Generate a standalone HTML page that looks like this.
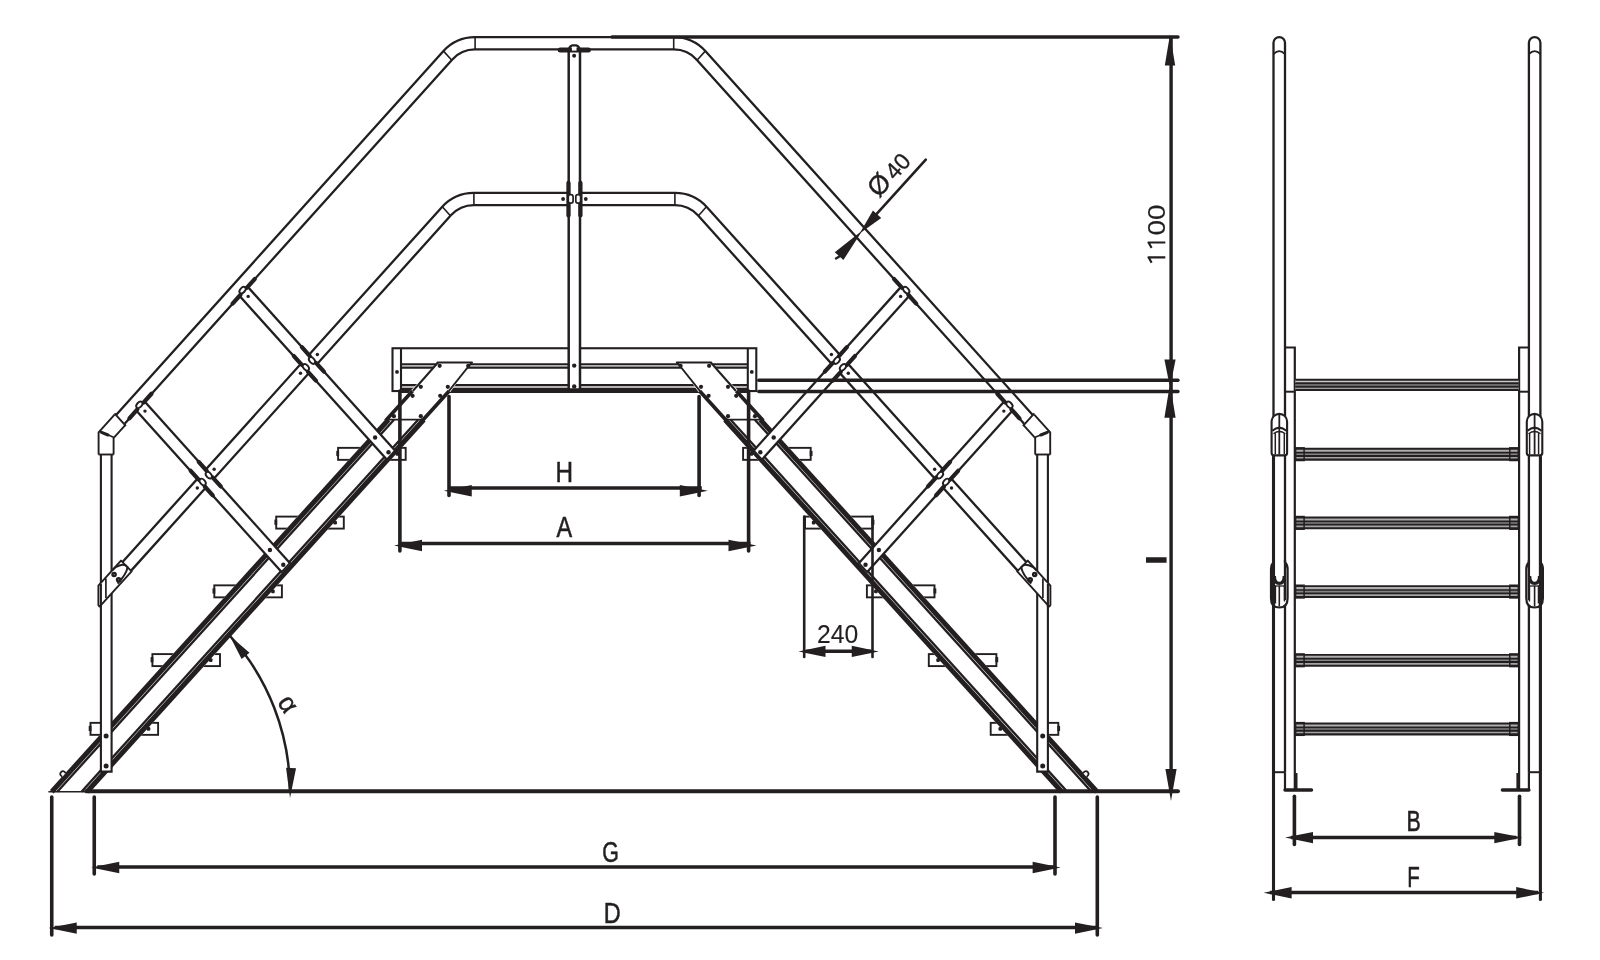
<!DOCTYPE html>
<html><head><meta charset="utf-8"><title>Drawing</title>
<style>html,body{margin:0;padding:0;background:#fff;}svg{display:block;will-change:transform;}body{font-family:"Liberation Sans",sans-serif;}</style></head>
<body>
<svg width="1600" height="960" viewBox="0 0 1600 960" stroke="#231f20" fill="none" font-family="Liberation Sans, sans-serif">
<rect x="0" y="0" width="1600" height="960" fill="#fff" stroke="none"/>
<g><rect x="392.5" y="348.25" width="363.8" height="42.8" fill="#fff" stroke-width="2.1"/>
<rect x="401" y="364.1" width="346.8" height="3.7" fill="#b4b4b4" stroke="none"/>
<rect x="401" y="385" width="346.8" height="4" fill="#b4b4b4" stroke="none"/>
<line x1="401" y1="364.1" x2="747.8" y2="364.1" stroke-width="1.9" stroke-linecap="butt" />
<line x1="401" y1="367.8" x2="747.8" y2="367.8" stroke-width="1.9" stroke-linecap="butt" />
<line x1="401" y1="385" x2="747.8" y2="385" stroke-width="1.9" stroke-linecap="butt" />
<line x1="401" y1="390.6" x2="747.8" y2="390.6" stroke-width="5" stroke-linecap="butt" />
<line x1="401" y1="348.25" x2="401" y2="391" stroke-width="2.1" stroke-linecap="butt" />
<line x1="747.8" y1="348.25" x2="747.8" y2="391" stroke-width="2.1" stroke-linecap="butt" />
<circle cx="397" cy="371.9" r="1.9" fill="#231f20" stroke="none"/>
<circle cx="751.8" cy="371.9" r="1.9" fill="#231f20" stroke="none"/></g>
<g><rect x="90.5" y="722.85" width="67.6" height="12.0" fill="#fff" stroke-width="1.9"/>
<rect x="152.4" y="654.1" width="67.6" height="12.0" fill="#fff" stroke-width="1.9"/>
<rect x="214.3" y="585.35" width="67.6" height="12.0" fill="#fff" stroke-width="1.9"/>
<rect x="276.2" y="516.6" width="67.6" height="12.0" fill="#fff" stroke-width="1.9"/>
<rect x="338.1" y="447.85" width="67.6" height="12.0" fill="#fff" stroke-width="1.9"/>
<path d="M48.42 791.7 L385.07 419.7 L410.25 391 L438 362.5 L471.6 362.5 L451.05 391 L425.07 419.7 L427.07 419.7 L90.42 791.7Z" stroke-width="0" fill="#fff" stroke="none"/>
<line x1="51.79" y1="791.7" x2="388.45" y2="419.7" stroke-width="5" stroke-linecap="butt" />
<line x1="87.05" y1="791.7" x2="423.7" y2="419.7" stroke-width="5" stroke-linecap="butt" />
<line x1="385.57" y1="420.7" x2="412.45" y2="391" stroke-width="3.7" stroke-linecap="butt" />
<line x1="422.27" y1="420.7" x2="449.15" y2="391" stroke-width="3.7" stroke-linecap="butt" />
<line x1="57.32" y1="791.7" x2="393.97" y2="419.7" stroke-width="2.35" stroke-linecap="butt" />
<line x1="81.52" y1="791.7" x2="418.17" y2="419.7" stroke-width="2.35" stroke-linecap="butt" />
<line x1="412.85" y1="391" x2="438" y2="362.5" stroke-width="2" stroke-linecap="butt" />
<line x1="448.85" y1="391" x2="471.6" y2="362.5" stroke-width="2" stroke-linecap="butt" />
<line x1="437.6" y1="362.5" x2="472" y2="362.5" stroke-width="2" stroke-linecap="round" />
<line x1="387.07" y1="419.7" x2="423.07" y2="419.7" stroke-width="1.8" stroke-linecap="butt" />
<line x1="48.42" y1="791.7" x2="84.42" y2="791.7" stroke-width="1.6" stroke-linecap="butt" />
<circle cx="439.7" cy="365.8" r="2.1" fill="#231f20" stroke="none"/>
<circle cx="468.2" cy="365.8" r="2.1" fill="#231f20" stroke="none"/>
<circle cx="420.8" cy="386.8" r="2.1" fill="#231f20" stroke="none"/>
<circle cx="447.8" cy="386.8" r="2.1" fill="#231f20" stroke="none"/>
<circle cx="412.6" cy="395.8" r="2.1" fill="#231f20" stroke="none"/>
<circle cx="440.2" cy="395.8" r="2.1" fill="#231f20" stroke="none"/>
<circle cx="393.9" cy="416.2" r="2.1" fill="#231f20" stroke="none"/>
<circle cx="420.8" cy="416.2" r="2.1" fill="#231f20" stroke="none"/>
<rect x="146.7" y="726.95" width="3.6" height="3.8" rx="1.2" fill="#231f20" stroke="none"/>
<line x1="90.1" y1="725.85" x2="90.1" y2="731.05" stroke-width="2.8" stroke-linecap="butt" />
<rect x="208.92" y="658.2" width="3.6" height="3.8" rx="1.2" fill="#231f20" stroke="none"/>
<line x1="152" y1="657.1" x2="152" y2="662.3" stroke-width="2.8" stroke-linecap="butt" />
<rect x="271.14" y="589.45" width="3.6" height="3.8" rx="1.2" fill="#231f20" stroke="none"/>
<line x1="213.9" y1="588.35" x2="213.9" y2="593.55" stroke-width="2.8" stroke-linecap="butt" />
<rect x="333.35" y="520.7" width="3.6" height="3.8" rx="1.2" fill="#231f20" stroke="none"/>
<line x1="275.8" y1="519.6" x2="275.8" y2="524.8" stroke-width="2.8" stroke-linecap="butt" />
<rect x="395.57" y="451.95" width="3.6" height="3.8" rx="1.2" fill="#231f20" stroke="none"/>
<line x1="337.7" y1="450.85" x2="337.7" y2="456.05" stroke-width="2.8" stroke-linecap="butt" />
<path d="M62.2 776.93 L61.13 775.74 A2.6 2.6 0 0 1 64.61 771.88 L65.68 773.07" stroke-width="1.7" fill="#fff" stroke-linejoin="round"/>
<path d="M126.84 566.3 L446.36 211.27 A37 37 0 0 1 473.9 199 L568 199" stroke-width="14.5" fill="none" stroke-linecap="butt" stroke-linejoin="round"/><path d="M126.84 566.3 L446.36 211.27 A37 37 0 0 1 473.9 199 L568 199" stroke="#fff" stroke-width="9.9" fill="none" stroke-linecap="butt" stroke-linejoin="round"/>
<line x1="473.9" y1="193" x2="473.9" y2="205" stroke-width="1.6" stroke-linecap="butt" />
<line x1="442.35" y1="206.81" x2="450.38" y2="215.73" stroke-width="1.6" stroke-linecap="butt" /></g>
<g transform="translate(1148.8 0) scale(-1 1)"><rect x="90.5" y="722.85" width="67.6" height="12.0" fill="#fff" stroke-width="1.9"/>
<rect x="152.4" y="654.1" width="67.6" height="12.0" fill="#fff" stroke-width="1.9"/>
<rect x="214.3" y="585.35" width="67.6" height="12.0" fill="#fff" stroke-width="1.9"/>
<rect x="276.2" y="516.6" width="67.6" height="12.0" fill="#fff" stroke-width="1.9"/>
<rect x="338.1" y="447.85" width="67.6" height="12.0" fill="#fff" stroke-width="1.9"/>
<path d="M48.42 791.7 L385.07 419.7 L410.25 391 L438 362.5 L471.6 362.5 L451.05 391 L425.07 419.7 L427.07 419.7 L90.42 791.7Z" stroke-width="0" fill="#fff" stroke="none"/>
<line x1="51.79" y1="791.7" x2="388.45" y2="419.7" stroke-width="5" stroke-linecap="butt" />
<line x1="87.05" y1="791.7" x2="423.7" y2="419.7" stroke-width="5" stroke-linecap="butt" />
<line x1="385.57" y1="420.7" x2="412.45" y2="391" stroke-width="3.7" stroke-linecap="butt" />
<line x1="422.27" y1="420.7" x2="449.15" y2="391" stroke-width="3.7" stroke-linecap="butt" />
<line x1="57.32" y1="791.7" x2="393.97" y2="419.7" stroke-width="2.35" stroke-linecap="butt" />
<line x1="81.52" y1="791.7" x2="418.17" y2="419.7" stroke-width="2.35" stroke-linecap="butt" />
<line x1="412.85" y1="391" x2="438" y2="362.5" stroke-width="2" stroke-linecap="butt" />
<line x1="448.85" y1="391" x2="471.6" y2="362.5" stroke-width="2" stroke-linecap="butt" />
<line x1="437.6" y1="362.5" x2="472" y2="362.5" stroke-width="2" stroke-linecap="round" />
<line x1="387.07" y1="419.7" x2="423.07" y2="419.7" stroke-width="1.8" stroke-linecap="butt" />
<line x1="48.42" y1="791.7" x2="84.42" y2="791.7" stroke-width="1.6" stroke-linecap="butt" />
<circle cx="439.7" cy="365.8" r="2.1" fill="#231f20" stroke="none"/>
<circle cx="468.2" cy="365.8" r="2.1" fill="#231f20" stroke="none"/>
<circle cx="420.8" cy="386.8" r="2.1" fill="#231f20" stroke="none"/>
<circle cx="447.8" cy="386.8" r="2.1" fill="#231f20" stroke="none"/>
<circle cx="412.6" cy="395.8" r="2.1" fill="#231f20" stroke="none"/>
<circle cx="440.2" cy="395.8" r="2.1" fill="#231f20" stroke="none"/>
<circle cx="393.9" cy="416.2" r="2.1" fill="#231f20" stroke="none"/>
<circle cx="420.8" cy="416.2" r="2.1" fill="#231f20" stroke="none"/>
<rect x="146.7" y="726.95" width="3.6" height="3.8" rx="1.2" fill="#231f20" stroke="none"/>
<line x1="90.1" y1="725.85" x2="90.1" y2="731.05" stroke-width="2.8" stroke-linecap="butt" />
<rect x="208.92" y="658.2" width="3.6" height="3.8" rx="1.2" fill="#231f20" stroke="none"/>
<line x1="152" y1="657.1" x2="152" y2="662.3" stroke-width="2.8" stroke-linecap="butt" />
<rect x="271.14" y="589.45" width="3.6" height="3.8" rx="1.2" fill="#231f20" stroke="none"/>
<line x1="213.9" y1="588.35" x2="213.9" y2="593.55" stroke-width="2.8" stroke-linecap="butt" />
<rect x="333.35" y="520.7" width="3.6" height="3.8" rx="1.2" fill="#231f20" stroke="none"/>
<line x1="275.8" y1="519.6" x2="275.8" y2="524.8" stroke-width="2.8" stroke-linecap="butt" />
<rect x="395.57" y="451.95" width="3.6" height="3.8" rx="1.2" fill="#231f20" stroke="none"/>
<line x1="337.7" y1="450.85" x2="337.7" y2="456.05" stroke-width="2.8" stroke-linecap="butt" />
<path d="M62.2 776.93 L61.13 775.74 A2.6 2.6 0 0 1 64.61 771.88 L65.68 773.07" stroke-width="1.7" fill="#fff" stroke-linejoin="round"/>
<path d="M126.84 566.3 L446.36 211.27 A37 37 0 0 1 473.9 199 L568 199" stroke-width="14.5" fill="none" stroke-linecap="butt" stroke-linejoin="round"/><path d="M126.84 566.3 L446.36 211.27 A37 37 0 0 1 473.9 199 L568 199" stroke="#fff" stroke-width="9.9" fill="none" stroke-linecap="butt" stroke-linejoin="round"/>
<line x1="473.9" y1="193" x2="473.9" y2="205" stroke-width="1.6" stroke-linecap="butt" />
<line x1="442.35" y1="206.81" x2="450.38" y2="215.73" stroke-width="1.6" stroke-linecap="butt" /></g>
<path d="M120.15 419.59 L447.56 55.57 A37 37 0 0 1 475.1 43.3 L673.7 43.3 A37 37 0 0 1 701.24 55.57 L1028.65 419.59" stroke-width="14.5" fill="none" stroke-linecap="butt" stroke-linejoin="round"/><path d="M120.15 419.59 L447.56 55.57 A37 37 0 0 1 475.1 43.3 L673.7 43.3 A37 37 0 0 1 701.24 55.57 L1028.65 419.59" stroke="#fff" stroke-width="9.9" fill="none" stroke-linecap="butt" stroke-linejoin="round"/>
<line x1="475.1" y1="37.2" x2="475.1" y2="49.2" stroke-width="1.6" stroke-linecap="butt" />
<line x1="443.55" y1="51.11" x2="451.58" y2="60.03" stroke-width="1.6" stroke-linecap="butt" />
<line x1="673.7" y1="37.2" x2="673.7" y2="49.2" stroke-width="1.6" stroke-linecap="butt" />
<line x1="705.25" y1="51.11" x2="697.22" y2="60.03" stroke-width="1.6" stroke-linecap="butt" />
<g><path d="M140.09 405.66 L285.69 567.5" stroke-width="14.5" fill="none" stroke-linecap="butt" stroke-linejoin="round"/><path d="M140.09 405.66 L285.69 567.5" stroke="#fff" stroke-width="9.9" fill="none" stroke-linecap="butt" stroke-linejoin="round"/>
<line x1="281.08" y1="572.63" x2="290.31" y2="562.37" stroke-width="1.7" stroke-linecap="butt" />
<circle cx="283.28" cy="564.82" r="2.2" fill="#231f20" stroke="none"/>
<circle cx="269.91" cy="549.96" r="2.2" fill="#231f20" stroke="none"/>
<line x1="137.35" y1="409.46" x2="129.39" y2="418.3" stroke-width="4.2" stroke-linecap="round" />
<line x1="143.5" y1="402.62" x2="151.46" y2="393.77" stroke-width="4.2" stroke-linecap="round" />
<ellipse cx="139.36" cy="404.85" rx="3.8" ry="2.4" transform="rotate(-48.02 139.36 404.85)" fill="#fff" stroke-width="1.9"/>
<circle cx="144.97" cy="411.09" r="1.7" fill="#231f20" stroke="none"/>
<line x1="198.64" y1="479.66" x2="190.68" y2="470.81" stroke-width="4.2" stroke-linecap="round" />
<line x1="204.79" y1="486.5" x2="212.75" y2="495.34" stroke-width="4.2" stroke-linecap="round" />
<ellipse cx="202.65" cy="482.04" rx="3.8" ry="2.4" transform="rotate(48.02 202.65 482.04)" fill="#fff" stroke-width="1.9"/>
<circle cx="197.3" cy="487.98" r="1.7" fill="#231f20" stroke="none"/>
<line x1="206.66" y1="470.74" x2="198.7" y2="461.89" stroke-width="4.2" stroke-linecap="round" />
<line x1="212.81" y1="477.58" x2="220.77" y2="486.42" stroke-width="4.2" stroke-linecap="round" />
<ellipse cx="208.8" cy="475.2" rx="3.8" ry="2.4" transform="rotate(48.02 208.8 475.2)" fill="#fff" stroke-width="1.9"/>
<circle cx="214.15" cy="469.25" r="1.7" fill="#231f20" stroke="none"/>
<path d="M243.29 290.95 L390.88 455" stroke-width="14.5" fill="none" stroke-linecap="butt" stroke-linejoin="round"/><path d="M243.29 290.95 L390.88 455" stroke="#fff" stroke-width="9.9" fill="none" stroke-linecap="butt" stroke-linejoin="round"/>
<line x1="386.27" y1="460.13" x2="395.5" y2="449.87" stroke-width="1.7" stroke-linecap="butt" />
<circle cx="388.48" cy="452.32" r="2.2" fill="#231f20" stroke="none"/>
<circle cx="375.1" cy="437.46" r="2.2" fill="#231f20" stroke="none"/>
<line x1="240.55" y1="294.75" x2="232.59" y2="303.59" stroke-width="4.2" stroke-linecap="round" />
<line x1="246.71" y1="287.91" x2="254.66" y2="279.06" stroke-width="4.2" stroke-linecap="round" />
<ellipse cx="242.56" cy="290.14" rx="3.8" ry="2.4" transform="rotate(-48.02 242.56 290.14)" fill="#fff" stroke-width="1.9"/>
<circle cx="248.18" cy="296.38" r="1.7" fill="#231f20" stroke="none"/>
<line x1="301.84" y1="364.95" x2="293.88" y2="356.1" stroke-width="4.2" stroke-linecap="round" />
<line x1="307.99" y1="371.79" x2="315.95" y2="380.63" stroke-width="4.2" stroke-linecap="round" />
<ellipse cx="305.85" cy="367.33" rx="3.8" ry="2.4" transform="rotate(48.02 305.85 367.33)" fill="#fff" stroke-width="1.9"/>
<circle cx="300.5" cy="373.27" r="1.7" fill="#231f20" stroke="none"/>
<line x1="309.86" y1="356.03" x2="301.91" y2="347.18" stroke-width="4.2" stroke-linecap="round" />
<line x1="316.02" y1="362.87" x2="323.98" y2="371.71" stroke-width="4.2" stroke-linecap="round" />
<ellipse cx="312" cy="360.49" rx="3.8" ry="2.4" transform="rotate(48.02 312 360.49)" fill="#fff" stroke-width="1.9"/>
<circle cx="317.36" cy="354.54" r="1.7" fill="#231f20" stroke="none"/>
<path d="M100.9 452 V771.6 H111.6 V452" fill="#fff" stroke-width="2.1"/>
<circle cx="106.1" cy="736" r="2.5" fill="#231f20" stroke="none"/>
<circle cx="106.1" cy="766" r="2.5" fill="#231f20" stroke="none"/>
<path d="M106.1 454.5 L106.1 435.2 L120.15 419.59" stroke-width="16.9" fill="none" stroke-linejoin="miter" stroke-miterlimit="2"/>
<path d="M106.1 454.5 L106.1 435.2 L120.15 419.59" stroke="#fff" stroke-width="13.1" fill="none" stroke-linejoin="miter" stroke-miterlimit="2"/>
<line x1="98.5" y1="454.5" x2="113.7" y2="454.5" stroke-width="1.9" stroke-linecap="butt" />
<line x1="114.53" y1="413.34" x2="125.76" y2="425.83" stroke-width="1.9" stroke-linecap="butt" />
<line x1="99.4" y1="431.2" x2="113.6" y2="437.2" stroke-width="1.6" stroke-linecap="butt" />
<line x1="101.5" y1="432.3" x2="108" y2="435" stroke-width="3" stroke-linecap="round" />
<path d="M98.4 585.6 L121 560.6 L131.6 571.4 L99.6 606.6 L98.4 605.2Z" stroke-width="1.9" fill="#fff" stroke-linejoin="round"/>
<line x1="100.9" y1="584" x2="100.9" y2="607" stroke-width="2.1" stroke-linecap="butt" />
<line x1="105.9" y1="578.5" x2="105.9" y2="598" stroke-width="1.7" stroke-linecap="butt" />
<path d="M111.9 570.6 C116 565.5 124.5 562.5 127.6 567.2 C126.5 573.5 121.5 579.5 117.5 583.5" stroke-width="2" fill="none" />
<circle cx="114.1" cy="574.5" r="1.6" fill="#fff" stroke-width="2.4"/>
<circle cx="118.6" cy="579.8" r="1.6" fill="#fff" stroke-width="2.4"/></g>
<g transform="translate(1148.8 0) scale(-1 1)"><path d="M140.09 405.66 L285.69 567.5" stroke-width="14.5" fill="none" stroke-linecap="butt" stroke-linejoin="round"/><path d="M140.09 405.66 L285.69 567.5" stroke="#fff" stroke-width="9.9" fill="none" stroke-linecap="butt" stroke-linejoin="round"/>
<line x1="281.08" y1="572.63" x2="290.31" y2="562.37" stroke-width="1.7" stroke-linecap="butt" />
<circle cx="283.28" cy="564.82" r="2.2" fill="#231f20" stroke="none"/>
<circle cx="269.91" cy="549.96" r="2.2" fill="#231f20" stroke="none"/>
<line x1="137.35" y1="409.46" x2="129.39" y2="418.3" stroke-width="4.2" stroke-linecap="round" />
<line x1="143.5" y1="402.62" x2="151.46" y2="393.77" stroke-width="4.2" stroke-linecap="round" />
<ellipse cx="139.36" cy="404.85" rx="3.8" ry="2.4" transform="rotate(-48.02 139.36 404.85)" fill="#fff" stroke-width="1.9"/>
<circle cx="144.97" cy="411.09" r="1.7" fill="#231f20" stroke="none"/>
<line x1="198.64" y1="479.66" x2="190.68" y2="470.81" stroke-width="4.2" stroke-linecap="round" />
<line x1="204.79" y1="486.5" x2="212.75" y2="495.34" stroke-width="4.2" stroke-linecap="round" />
<ellipse cx="202.65" cy="482.04" rx="3.8" ry="2.4" transform="rotate(48.02 202.65 482.04)" fill="#fff" stroke-width="1.9"/>
<circle cx="197.3" cy="487.98" r="1.7" fill="#231f20" stroke="none"/>
<line x1="206.66" y1="470.74" x2="198.7" y2="461.89" stroke-width="4.2" stroke-linecap="round" />
<line x1="212.81" y1="477.58" x2="220.77" y2="486.42" stroke-width="4.2" stroke-linecap="round" />
<ellipse cx="208.8" cy="475.2" rx="3.8" ry="2.4" transform="rotate(48.02 208.8 475.2)" fill="#fff" stroke-width="1.9"/>
<circle cx="214.15" cy="469.25" r="1.7" fill="#231f20" stroke="none"/>
<path d="M243.29 290.95 L390.88 455" stroke-width="14.5" fill="none" stroke-linecap="butt" stroke-linejoin="round"/><path d="M243.29 290.95 L390.88 455" stroke="#fff" stroke-width="9.9" fill="none" stroke-linecap="butt" stroke-linejoin="round"/>
<line x1="386.27" y1="460.13" x2="395.5" y2="449.87" stroke-width="1.7" stroke-linecap="butt" />
<circle cx="388.48" cy="452.32" r="2.2" fill="#231f20" stroke="none"/>
<circle cx="375.1" cy="437.46" r="2.2" fill="#231f20" stroke="none"/>
<line x1="240.55" y1="294.75" x2="232.59" y2="303.59" stroke-width="4.2" stroke-linecap="round" />
<line x1="246.71" y1="287.91" x2="254.66" y2="279.06" stroke-width="4.2" stroke-linecap="round" />
<ellipse cx="242.56" cy="290.14" rx="3.8" ry="2.4" transform="rotate(-48.02 242.56 290.14)" fill="#fff" stroke-width="1.9"/>
<circle cx="248.18" cy="296.38" r="1.7" fill="#231f20" stroke="none"/>
<line x1="301.84" y1="364.95" x2="293.88" y2="356.1" stroke-width="4.2" stroke-linecap="round" />
<line x1="307.99" y1="371.79" x2="315.95" y2="380.63" stroke-width="4.2" stroke-linecap="round" />
<ellipse cx="305.85" cy="367.33" rx="3.8" ry="2.4" transform="rotate(48.02 305.85 367.33)" fill="#fff" stroke-width="1.9"/>
<circle cx="300.5" cy="373.27" r="1.7" fill="#231f20" stroke="none"/>
<line x1="309.86" y1="356.03" x2="301.91" y2="347.18" stroke-width="4.2" stroke-linecap="round" />
<line x1="316.02" y1="362.87" x2="323.98" y2="371.71" stroke-width="4.2" stroke-linecap="round" />
<ellipse cx="312" cy="360.49" rx="3.8" ry="2.4" transform="rotate(48.02 312 360.49)" fill="#fff" stroke-width="1.9"/>
<circle cx="317.36" cy="354.54" r="1.7" fill="#231f20" stroke="none"/>
<path d="M100.9 452 V771.6 H111.6 V452" fill="#fff" stroke-width="2.1"/>
<circle cx="106.1" cy="736" r="2.5" fill="#231f20" stroke="none"/>
<circle cx="106.1" cy="766" r="2.5" fill="#231f20" stroke="none"/>
<path d="M106.1 454.5 L106.1 435.2 L120.15 419.59" stroke-width="16.9" fill="none" stroke-linejoin="miter" stroke-miterlimit="2"/>
<path d="M106.1 454.5 L106.1 435.2 L120.15 419.59" stroke="#fff" stroke-width="13.1" fill="none" stroke-linejoin="miter" stroke-miterlimit="2"/>
<line x1="98.5" y1="454.5" x2="113.7" y2="454.5" stroke-width="1.9" stroke-linecap="butt" />
<line x1="114.53" y1="413.34" x2="125.76" y2="425.83" stroke-width="1.9" stroke-linecap="butt" />
<line x1="99.4" y1="431.2" x2="113.6" y2="437.2" stroke-width="1.6" stroke-linecap="butt" />
<line x1="101.5" y1="432.3" x2="108" y2="435" stroke-width="3" stroke-linecap="round" />
<path d="M98.4 585.6 L121 560.6 L131.6 571.4 L99.6 606.6 L98.4 605.2Z" stroke-width="1.9" fill="#fff" stroke-linejoin="round"/>
<line x1="100.9" y1="584" x2="100.9" y2="607" stroke-width="2.1" stroke-linecap="butt" />
<line x1="105.9" y1="578.5" x2="105.9" y2="598" stroke-width="1.7" stroke-linecap="butt" />
<path d="M111.9 570.6 C116 565.5 124.5 562.5 127.6 567.2 C126.5 573.5 121.5 579.5 117.5 583.5" stroke-width="2" fill="none" />
<circle cx="114.1" cy="574.5" r="1.6" fill="#fff" stroke-width="2.4"/>
<circle cx="118.6" cy="579.8" r="1.6" fill="#fff" stroke-width="2.4"/></g>
<path d="M568.7 49.6 V389.6 H580.0 V49.6" fill="#fff" stroke-width="2.5"/>
<line x1="560.2" y1="50" x2="588.4" y2="50" stroke-width="5" stroke-linecap="round" />
<path d="M568.6 49.5 Q570.2 45.6 572.4 45.4 H576.2 Q578.4 45.6 580.0 49.5" fill="none" stroke-width="2.2"/>
<rect x="571.9" y="47.0" width="4.6" height="3.6" fill="#fff" stroke="none"/>
<circle cx="574.1" cy="55.7" r="2" fill="#231f20" stroke="none"/>
<circle cx="574.2" cy="365.6" r="2.2" fill="#231f20" stroke="none"/>
<circle cx="574.2" cy="386.4" r="2.2" fill="#231f20" stroke="none"/>
<line x1="568.5" y1="183" x2="568.5" y2="215.4" stroke-width="4.3" stroke-linecap="round" />
<rect x="568.3" y="194.6" width="4.8" height="8.6" rx="2.2" fill="#fff" stroke-width="1.7"/>
<circle cx="563.1" cy="199" r="1.9" fill="#231f20" stroke="none"/>
<line x1="580.4" y1="183" x2="580.4" y2="215.4" stroke-width="4.3" stroke-linecap="round" />
<rect x="575.8" y="194.6" width="4.8" height="8.6" rx="2.2" fill="#fff" stroke-width="1.7"/>
<circle cx="585.8" cy="199" r="1.9" fill="#231f20" stroke="none"/>
<line x1="86" y1="791.2" x2="1178" y2="791.2" stroke-width="3.9" stroke-linecap="round" />
<line x1="449" y1="396.5" x2="449" y2="495.4" stroke-width="3.6" stroke-linecap="round" />
<line x1="699.1" y1="396.5" x2="699.1" y2="495.4" stroke-width="3.6" stroke-linecap="round" />
<line x1="449.75" y1="487.9" x2="701.8" y2="487.9" stroke-width="3.5" stroke-linecap="butt" />
<path d="M443.75 490.7 L471.75 485 L471.75 496.4 Z" fill="#231f20" stroke="none"/>
<path d="M707.8 490.7 L679.8 496.4 L679.8 485 Z" fill="#231f20" stroke="none"/>
<text transform="translate(564.3 482) scale(0.83 1)" font-size="29.3" text-anchor="middle" fill="#231f20" stroke="#231f20" stroke-width="0.55">H</text>
<line x1="399.9" y1="391" x2="399.9" y2="551" stroke-width="3.6" stroke-linecap="round" />
<line x1="748.6" y1="391" x2="748.6" y2="551" stroke-width="3.6" stroke-linecap="round" />
<line x1="400" y1="543.5" x2="750.5" y2="543.5" stroke-width="3.5" stroke-linecap="butt" />
<path d="M394 545.5 L422 539.8 L422 551.2 Z" fill="#231f20" stroke="none"/>
<path d="M756.5 545.5 L728.5 551.2 L728.5 539.8 Z" fill="#231f20" stroke="none"/>
<text transform="translate(564.4 537.3) scale(0.8 1)" font-size="29.3" text-anchor="middle" fill="#231f20" stroke="#231f20" stroke-width="0.55">A</text>
<line x1="94.25" y1="797" x2="94.25" y2="874" stroke-width="3.6" stroke-linecap="round" />
<line x1="1055" y1="797" x2="1055" y2="874" stroke-width="3.6" stroke-linecap="round" />
<line x1="97.25" y1="867" x2="1054.6" y2="867" stroke-width="3.5" stroke-linecap="butt" />
<path d="M91.25 867.5 L119.25 861.8 L119.25 873.2 Z" fill="#231f20" stroke="none"/>
<path d="M1060.6 867.5 L1032.6 873.2 L1032.6 861.8 Z" fill="#231f20" stroke="none"/>
<text transform="translate(610.5 861.7) scale(0.73 1)" font-size="29.3" text-anchor="middle" fill="#231f20" stroke="#231f20" stroke-width="0.55">G</text>
<line x1="51.75" y1="797" x2="51.75" y2="935" stroke-width="3.6" stroke-linecap="round" />
<line x1="1097.3" y1="797" x2="1097.3" y2="935" stroke-width="3.6" stroke-linecap="round" />
<line x1="54.75" y1="927.5" x2="1097" y2="927.5" stroke-width="3.5" stroke-linecap="butt" />
<path d="M48.75 928.1 L76.75 922.4 L76.75 933.8 Z" fill="#231f20" stroke="none"/>
<path d="M1103 928.1 L1075 933.8 L1075 922.4 Z" fill="#231f20" stroke="none"/>
<text transform="translate(612.3 922.8) scale(0.8 1)" font-size="29.3" text-anchor="middle" fill="#231f20" stroke="#231f20" stroke-width="0.55">D</text>
<line x1="804.2" y1="516.5" x2="804.2" y2="657" stroke-width="2.6" stroke-linecap="round" />
<line x1="872.5" y1="516.5" x2="872.5" y2="657" stroke-width="2.6" stroke-linecap="round" />
<line x1="806" y1="651.2" x2="871" y2="651.2" stroke-width="3.5" stroke-linecap="butt" />
<path d="M798.5 651.4 L825.5 645.7 L825.5 657.1 Z" fill="#231f20" stroke="none"/>
<path d="M878.75 651.4 L851.75 657.1 L851.75 645.7 Z" fill="#231f20" stroke="none"/>
<text transform="translate(837.6 643) scale(0.97 1)" font-size="25.5" text-anchor="middle" fill="#231f20" stroke="#231f20" stroke-width="0.1">240</text>
<path d="M230.04 635.97 A233 233 0 0 1 290 791" stroke-width="2.5"/>
<path d="M290 798 L286.05 767.84 L296.04 768.19 Z" fill="#231f20" stroke="none"/>
<path d="M229.54 635.47 L249.5 652.86 L241.62 659.02 Z" fill="#231f20" stroke="none"/>
<text transform="translate(287.2 704.6) rotate(57)" font-size="26.5" text-anchor="middle" fill="#231f20" stroke="#231f20" stroke-width="0.45"><tspan dy="7.4">α</tspan></text>
<line x1="612" y1="37" x2="1178" y2="37" stroke-width="3.4" stroke-linecap="round" />
<line x1="758.75" y1="380.25" x2="1178" y2="380.25" stroke-width="3.3" stroke-linecap="round" />
<line x1="758.75" y1="391.5" x2="1178" y2="391.5" stroke-width="3.3" stroke-linecap="round" />
<line x1="1171.1" y1="37" x2="1171.1" y2="791.2" stroke-width="3.4" stroke-linecap="butt" />
<path d="M1170 34.5 L1175.2 65.5 L1164.8 65.5 Z" fill="#231f20" stroke="none"/>
<path d="M1170 387.5 L1164.4 359.5 L1175.6 359.5 Z" fill="#231f20" stroke="none"/>
<path d="M1170 383.7 L1175.6 417.7 L1164.4 417.7 Z" fill="#231f20" stroke="none"/>
<path d="M1171 801 L1165.4 769 L1176.6 769 Z" fill="#231f20" stroke="none"/>
<text transform="translate(1165.2 220) rotate(-90) scale(1.16 1)" font-size="24" text-anchor="middle" fill="#231f20" stroke="#231f20" stroke-width="0.15">00</text>
<path d="M1165.3 257.3 H1148.5 Q1150.6 260.9 1151.6 262.7" stroke-width="2.2" fill="none" stroke-linejoin="round"/>
<path d="M1165.3 242.5 H1148.5 Q1150.6 246.1 1151.6 247.9" stroke-width="2.2" fill="none" stroke-linejoin="round"/>
<rect x="1146" y="557.25" width="20.6" height="5.5" fill="#231f20" stroke="none"/>
<line x1="925.8" y1="159.7" x2="876" y2="214.6" stroke-width="2.6" stroke-linecap="round" />
<path d="M859.6 233.6 L872.92 210.58 L881.22 218.1 Z" fill="#231f20" stroke="none"/>
<path d="M862.6 230.2 L843.38 260.02 L834.79 252.23 Z" fill="#231f20" stroke="none"/>
<line x1="841" y1="255.5" x2="836" y2="258.5" stroke-width="2.4" stroke-linecap="round" />
<text transform="translate(895.4 180.4) rotate(312.21)" font-size="23" stroke="#231f20" stroke-width="0.3" text-anchor="middle" fill="#231f20" stroke="none"><tspan font-size="27">Ø</tspan><tspan dx="3">40</tspan></text>
<g><path d="M1273.5 772.2 V42.8 A5.75 5.75 0 0 1 1285 42.8 V772.2" fill="#fff" stroke-width="2.3"/>
<path d="M1273.5 54.2 Q1279.25 48 1285 54.2" stroke-width="1.7"/>
<line x1="1273.5" y1="772.2" x2="1285" y2="772.2" stroke-width="2" stroke-linecap="butt" />
<path d="M1285.8 347.5 H1294.8 V790" stroke-width="2.2"/>
<line x1="1285.8" y1="391.7" x2="1294.8" y2="391.7" stroke-width="2" stroke-linecap="butt" />
<line x1="1285" y1="772.2" x2="1285" y2="790" stroke-width="2.2" stroke-linecap="butt" />
<line x1="1285" y1="790" x2="1311.5" y2="790" stroke-width="3.4" stroke-linecap="round" />
<line x1="1296" y1="773" x2="1296" y2="790" stroke-width="3" stroke-linecap="butt" />
<path d="M1271.6 453 V421.6 A7.75 7.75 0 0 1 1287.1 421.6 V453 Q1287.1 455.4 1284.7 455.4 H1274 Q1271.6 455.4 1271.6 453 Z" fill="#fff" stroke-width="2.1"/>
<line x1="1279.3" y1="414.5" x2="1279.3" y2="454.6" stroke-width="1.8" stroke-linecap="butt" />
<path d="M1272.4 430.8 Q1279.3 424.4 1286.4 430.8" stroke-width="2"/>
<path d="M1273.4 433.8 Q1279.3 429.2 1285.4 433.8" stroke-width="1.3"/>
<line x1="1275.3" y1="433.2" x2="1275.3" y2="454.4" stroke-width="1.5" stroke-linecap="butt" />
<line x1="1284.3" y1="433.2" x2="1284.3" y2="454.4" stroke-width="1.5" stroke-linecap="butt" />
<path d="M1273.4 562.5 Q1271.0 564.5 1271.0 569 V598.2 Q1271.0 607.5 1279.3 607.5 Q1287.6 607.5 1287.6 598.2 V569 Q1287.6 564.5 1285.1 562.5" fill="#fff" stroke-width="2.2"/>
<line x1="1273.5" y1="560" x2="1273.5" y2="600" stroke-width="2.3" stroke-linecap="butt" />
<line x1="1285" y1="560" x2="1285" y2="600" stroke-width="2.3" stroke-linecap="butt" />
<path d="M1274.4 576 Q1274.4 583.4 1279.3 583.4 Q1284.2 583.4 1284.2 576" fill="none" stroke-width="3.2"/>
<line x1="1275.4" y1="585.6" x2="1275.4" y2="603.5" stroke-width="1.5" stroke-linecap="butt" />
<line x1="1279.3" y1="585.6" x2="1279.3" y2="606.5" stroke-width="1.6" stroke-linecap="butt" />
<line x1="1284.5" y1="585.6" x2="1284.5" y2="601.5" stroke-width="1.5" stroke-linecap="butt" />
<path d="M1274.6 586 H1285" stroke-width="1.3"/></g>
<g transform="translate(2813.9 0) scale(-1 1)"><path d="M1273.5 772.2 V42.8 A5.75 5.75 0 0 1 1285 42.8 V772.2" fill="#fff" stroke-width="2.3"/>
<path d="M1273.5 54.2 Q1279.25 48 1285 54.2" stroke-width="1.7"/>
<line x1="1273.5" y1="772.2" x2="1285" y2="772.2" stroke-width="2" stroke-linecap="butt" />
<path d="M1285.8 347.5 H1294.8 V790" stroke-width="2.2"/>
<line x1="1285.8" y1="391.7" x2="1294.8" y2="391.7" stroke-width="2" stroke-linecap="butt" />
<line x1="1285" y1="772.2" x2="1285" y2="790" stroke-width="2.2" stroke-linecap="butt" />
<line x1="1285" y1="790" x2="1311.5" y2="790" stroke-width="3.4" stroke-linecap="round" />
<line x1="1296" y1="773" x2="1296" y2="790" stroke-width="3" stroke-linecap="butt" />
<path d="M1271.6 453 V421.6 A7.75 7.75 0 0 1 1287.1 421.6 V453 Q1287.1 455.4 1284.7 455.4 H1274 Q1271.6 455.4 1271.6 453 Z" fill="#fff" stroke-width="2.1"/>
<line x1="1279.3" y1="414.5" x2="1279.3" y2="454.6" stroke-width="1.8" stroke-linecap="butt" />
<path d="M1272.4 430.8 Q1279.3 424.4 1286.4 430.8" stroke-width="2"/>
<path d="M1273.4 433.8 Q1279.3 429.2 1285.4 433.8" stroke-width="1.3"/>
<line x1="1275.3" y1="433.2" x2="1275.3" y2="454.4" stroke-width="1.5" stroke-linecap="butt" />
<line x1="1284.3" y1="433.2" x2="1284.3" y2="454.4" stroke-width="1.5" stroke-linecap="butt" />
<path d="M1273.4 562.5 Q1271.0 564.5 1271.0 569 V598.2 Q1271.0 607.5 1279.3 607.5 Q1287.6 607.5 1287.6 598.2 V569 Q1287.6 564.5 1285.1 562.5" fill="#fff" stroke-width="2.2"/>
<line x1="1273.5" y1="560" x2="1273.5" y2="600" stroke-width="2.3" stroke-linecap="butt" />
<line x1="1285" y1="560" x2="1285" y2="600" stroke-width="2.3" stroke-linecap="butt" />
<path d="M1274.4 576 Q1274.4 583.4 1279.3 583.4 Q1284.2 583.4 1284.2 576" fill="none" stroke-width="3.2"/>
<line x1="1275.4" y1="585.6" x2="1275.4" y2="603.5" stroke-width="1.5" stroke-linecap="butt" />
<line x1="1279.3" y1="585.6" x2="1279.3" y2="606.5" stroke-width="1.6" stroke-linecap="butt" />
<line x1="1284.5" y1="585.6" x2="1284.5" y2="601.5" stroke-width="1.5" stroke-linecap="butt" />
<path d="M1274.6 586 H1285" stroke-width="1.3"/></g>
<rect x="1295.3" y="379.7" width="223.3" height="3.35" fill="#c8c8c8" stroke="none"/>
<rect x="1295.3" y="383.05" width="223.3" height="3.85" fill="#6a6a6a" stroke="none"/>
<rect x="1295.3" y="386.9" width="223.3" height="2.95" fill="#c8c8c8" stroke="none"/>
<line x1="1295.3" y1="379.7" x2="1518.6" y2="379.7" stroke-width="1.9" stroke-linecap="butt" />
<line x1="1295.3" y1="383.05" x2="1518.6" y2="383.05" stroke-width="1.7" stroke-linecap="butt" />
<line x1="1295.3" y1="386.9" x2="1518.6" y2="386.9" stroke-width="1.9" stroke-linecap="butt" />
<line x1="1295.3" y1="389.85" x2="1518.6" y2="389.85" stroke-width="2.1" stroke-linecap="butt" />
<rect x="1295.3" y="448.75" width="223.3" height="3.85" fill="#adadad" stroke="none"/>
<rect x="1295.3" y="452.6" width="223.3" height="3.35" fill="#858585" stroke="none"/>
<rect x="1295.3" y="455.95" width="223.3" height="3.65" fill="#a4a4a4" stroke="none"/>
<line x1="1295.3" y1="448.75" x2="1518.6" y2="448.75" stroke-width="1.9" stroke-linecap="butt" />
<line x1="1295.3" y1="452.6" x2="1518.6" y2="452.6" stroke-width="1.7" stroke-linecap="butt" />
<line x1="1295.3" y1="455.95" x2="1518.6" y2="455.95" stroke-width="1.9" stroke-linecap="butt" />
<line x1="1295.3" y1="459.6" x2="1518.6" y2="459.6" stroke-width="2.1" stroke-linecap="butt" />
<rect x="1295.6" y="447.85" width="8.5" height="12.65" fill="none" stroke-width="1.5"/>
<rect x="1509.8" y="447.85" width="8.5" height="12.65" fill="none" stroke-width="1.5"/>
<rect x="1295.3" y="517.45" width="223.3" height="3.85" fill="#adadad" stroke="none"/>
<rect x="1295.3" y="521.3" width="223.3" height="3.35" fill="#858585" stroke="none"/>
<rect x="1295.3" y="524.65" width="223.3" height="3.65" fill="#a4a4a4" stroke="none"/>
<line x1="1295.3" y1="517.45" x2="1518.6" y2="517.45" stroke-width="1.9" stroke-linecap="butt" />
<line x1="1295.3" y1="521.3" x2="1518.6" y2="521.3" stroke-width="1.7" stroke-linecap="butt" />
<line x1="1295.3" y1="524.65" x2="1518.6" y2="524.65" stroke-width="1.9" stroke-linecap="butt" />
<line x1="1295.3" y1="528.3" x2="1518.6" y2="528.3" stroke-width="2.1" stroke-linecap="butt" />
<rect x="1295.6" y="516.55" width="8.5" height="12.65" fill="none" stroke-width="1.5"/>
<rect x="1509.8" y="516.55" width="8.5" height="12.65" fill="none" stroke-width="1.5"/>
<rect x="1295.3" y="586.15" width="223.3" height="3.85" fill="#adadad" stroke="none"/>
<rect x="1295.3" y="590" width="223.3" height="3.35" fill="#858585" stroke="none"/>
<rect x="1295.3" y="593.35" width="223.3" height="3.65" fill="#a4a4a4" stroke="none"/>
<line x1="1295.3" y1="586.15" x2="1518.6" y2="586.15" stroke-width="1.9" stroke-linecap="butt" />
<line x1="1295.3" y1="590" x2="1518.6" y2="590" stroke-width="1.7" stroke-linecap="butt" />
<line x1="1295.3" y1="593.35" x2="1518.6" y2="593.35" stroke-width="1.9" stroke-linecap="butt" />
<line x1="1295.3" y1="597" x2="1518.6" y2="597" stroke-width="2.1" stroke-linecap="butt" />
<rect x="1295.6" y="585.25" width="8.5" height="12.65" fill="none" stroke-width="1.5"/>
<rect x="1509.8" y="585.25" width="8.5" height="12.65" fill="none" stroke-width="1.5"/>
<rect x="1295.3" y="654.85" width="223.3" height="3.85" fill="#adadad" stroke="none"/>
<rect x="1295.3" y="658.7" width="223.3" height="3.35" fill="#858585" stroke="none"/>
<rect x="1295.3" y="662.05" width="223.3" height="3.65" fill="#a4a4a4" stroke="none"/>
<line x1="1295.3" y1="654.85" x2="1518.6" y2="654.85" stroke-width="1.9" stroke-linecap="butt" />
<line x1="1295.3" y1="658.7" x2="1518.6" y2="658.7" stroke-width="1.7" stroke-linecap="butt" />
<line x1="1295.3" y1="662.05" x2="1518.6" y2="662.05" stroke-width="1.9" stroke-linecap="butt" />
<line x1="1295.3" y1="665.7" x2="1518.6" y2="665.7" stroke-width="2.1" stroke-linecap="butt" />
<rect x="1295.6" y="653.95" width="8.5" height="12.65" fill="none" stroke-width="1.5"/>
<rect x="1509.8" y="653.95" width="8.5" height="12.65" fill="none" stroke-width="1.5"/>
<rect x="1295.3" y="723.55" width="223.3" height="3.85" fill="#adadad" stroke="none"/>
<rect x="1295.3" y="727.4" width="223.3" height="3.35" fill="#858585" stroke="none"/>
<rect x="1295.3" y="730.75" width="223.3" height="3.65" fill="#a4a4a4" stroke="none"/>
<line x1="1295.3" y1="723.55" x2="1518.6" y2="723.55" stroke-width="1.9" stroke-linecap="butt" />
<line x1="1295.3" y1="727.4" x2="1518.6" y2="727.4" stroke-width="1.7" stroke-linecap="butt" />
<line x1="1295.3" y1="730.75" x2="1518.6" y2="730.75" stroke-width="1.9" stroke-linecap="butt" />
<line x1="1295.3" y1="734.4" x2="1518.6" y2="734.4" stroke-width="2.1" stroke-linecap="butt" />
<rect x="1295.6" y="722.65" width="8.5" height="12.65" fill="none" stroke-width="1.5"/>
<rect x="1509.8" y="722.65" width="8.5" height="12.65" fill="none" stroke-width="1.5"/>
<line x1="1294.4" y1="796.2" x2="1294.4" y2="844.4" stroke-width="3.6" stroke-linecap="round" />
<line x1="1519.5" y1="796.2" x2="1519.5" y2="844.4" stroke-width="3.6" stroke-linecap="round" />
<line x1="1291" y1="837.4" x2="1516.3" y2="837.4" stroke-width="3.5" stroke-linecap="butt" />
<path d="M1285 837.6 L1313 831.9 L1313 843.3 Z" fill="#231f20" stroke="none"/>
<path d="M1522.3 837.6 L1494.3 843.3 L1494.3 831.9 Z" fill="#231f20" stroke="none"/>
<text transform="translate(1413.7 831.4) scale(0.73 1)" font-size="29.3" text-anchor="middle" fill="#231f20" stroke="#231f20" stroke-width="0.55">B</text>
<line x1="1273.5" y1="457" x2="1273.5" y2="899.5" stroke-width="3.1" stroke-linecap="round" />
<line x1="1540.4" y1="457" x2="1540.4" y2="899.5" stroke-width="3.1" stroke-linecap="round" />
<line x1="1270" y1="892.5" x2="1538" y2="892.5" stroke-width="3.5" stroke-linecap="butt" />
<path d="M1263.6 892.8 L1291.6 887.1 L1291.6 898.5 Z" fill="#231f20" stroke="none"/>
<path d="M1544.2 892.8 L1516.2 898.5 L1516.2 887.1 Z" fill="#231f20" stroke="none"/>
<text transform="translate(1413.6 887) scale(0.7 1)" font-size="29.3" text-anchor="middle" fill="#231f20" stroke="#231f20" stroke-width="0.55">F</text>
</svg>
</body></html>
